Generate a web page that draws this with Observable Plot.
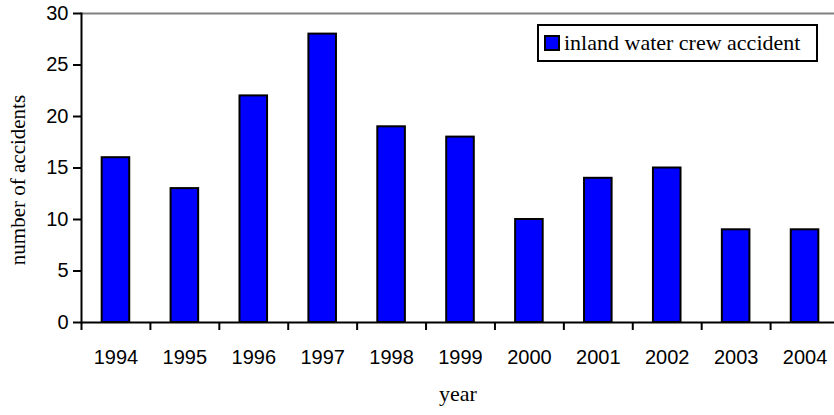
<!DOCTYPE html>
<html>
<head>
<meta charset="utf-8">
<script src="https://cdn.jsdelivr.net/npm/d3@7"></script>
<script src="https://cdn.jsdelivr.net/npm/@observablehq/plot@0.6"></script>
<style>
  html, body { margin: 0; padding: 0; background: #fff; }
  #wrap { position: relative; width: 834px; height: 415px; overflow: hidden; }
  #legend { position: absolute; left: 537px; top: 24px; width: 277px; height: 34px; border: 2px solid #000; background: #fff;
    font-family: "Liberation Serif", "Times New Roman", serif; font-size: 22px; display: flex; align-items: center; box-sizing: content-box; white-space: nowrap; }
  #legend .sw { width: 12px; height: 12px; background: #0000ff; border: 2px solid #000; margin-left: 5px; margin-right: 4px; flex: none; }
</style>
</head>
<body>
<div id="wrap"></div>
<script>
const years = ["1994","1995","1996","1997","1998","1999","2000","2001","2002","2003","2004"];
const accidents = [16, 13, 22, 28, 19, 18, 10, 14, 15, 9, 9];
const yTicks = [0, 5, 10, 15, 20, 25, 30];
const seriesName = "inland water crew accident";
const xTitle = "year";
const yTitle = "number of accidents";

const data = years.map((y, i) => ({year: y, value: accidents[i]}));
const step = (839 - 81) / years.length;
const serif = "'Liberation Serif', 'Times New Roman', serif";

const chart = Plot.plot({
  width: 834,
  height: 415,
  marginLeft: 81,
  marginRight: 0,
  marginTop: 13,
  marginBottom: 93,
  style: {fontFamily: "'Liberation Sans', Arial, sans-serif", color: "#000", background: "#fff", overflow: "visible"},
  x: {domain: years, range: [81, 839], paddingInner: 0.6, paddingOuter: 0.3, round: false, axis: null},
  y: {domain: [0, 30], axis: null},
  marks: [
    Plot.ruleY([30], {stroke: "#808080", strokeWidth: 2}),
    Plot.barY(data, {x: "year", y: "value", fill: "#0000ff", stroke: "#000", strokeWidth: 2}),
    Plot.ruleY([0], {stroke: "#000", strokeWidth: 2}),
    Plot.frame({anchor: "left", stroke: "#000", strokeWidth: 2}),
    Plot.axisY({ticks: yTicks, tickSize: 8, tickPadding: 5, fontSize: 20, label: null, strokeWidth: 2}),
    Plot.axisX({tickSize: 0, tickPadding: 27, fontSize: 20, label: null}),
    Plot.axisX({tickSize: 8, tickFormat: () => "", label: null, dx: -step / 2, strokeWidth: 2}),
    Plot.text([xTitle], {frameAnchor: "bottom", dy: 78, text: d => d, fontSize: 22, fontFamily: serif}),
    Plot.text([yTitle], {frameAnchor: "left", dx: -63, dy: 12, rotate: -90, textAnchor: "middle", text: d => d, fontSize: 21, fontFamily: serif})
  ]
});
const wrap = document.getElementById("wrap");
wrap.appendChild(chart);
const legend = document.createElement("div");
legend.id = "legend";
legend.innerHTML = `<div class="sw"></div><span></span>`;
legend.querySelector("span").textContent = seriesName;
wrap.appendChild(legend);
</script>
</body>
</html>
